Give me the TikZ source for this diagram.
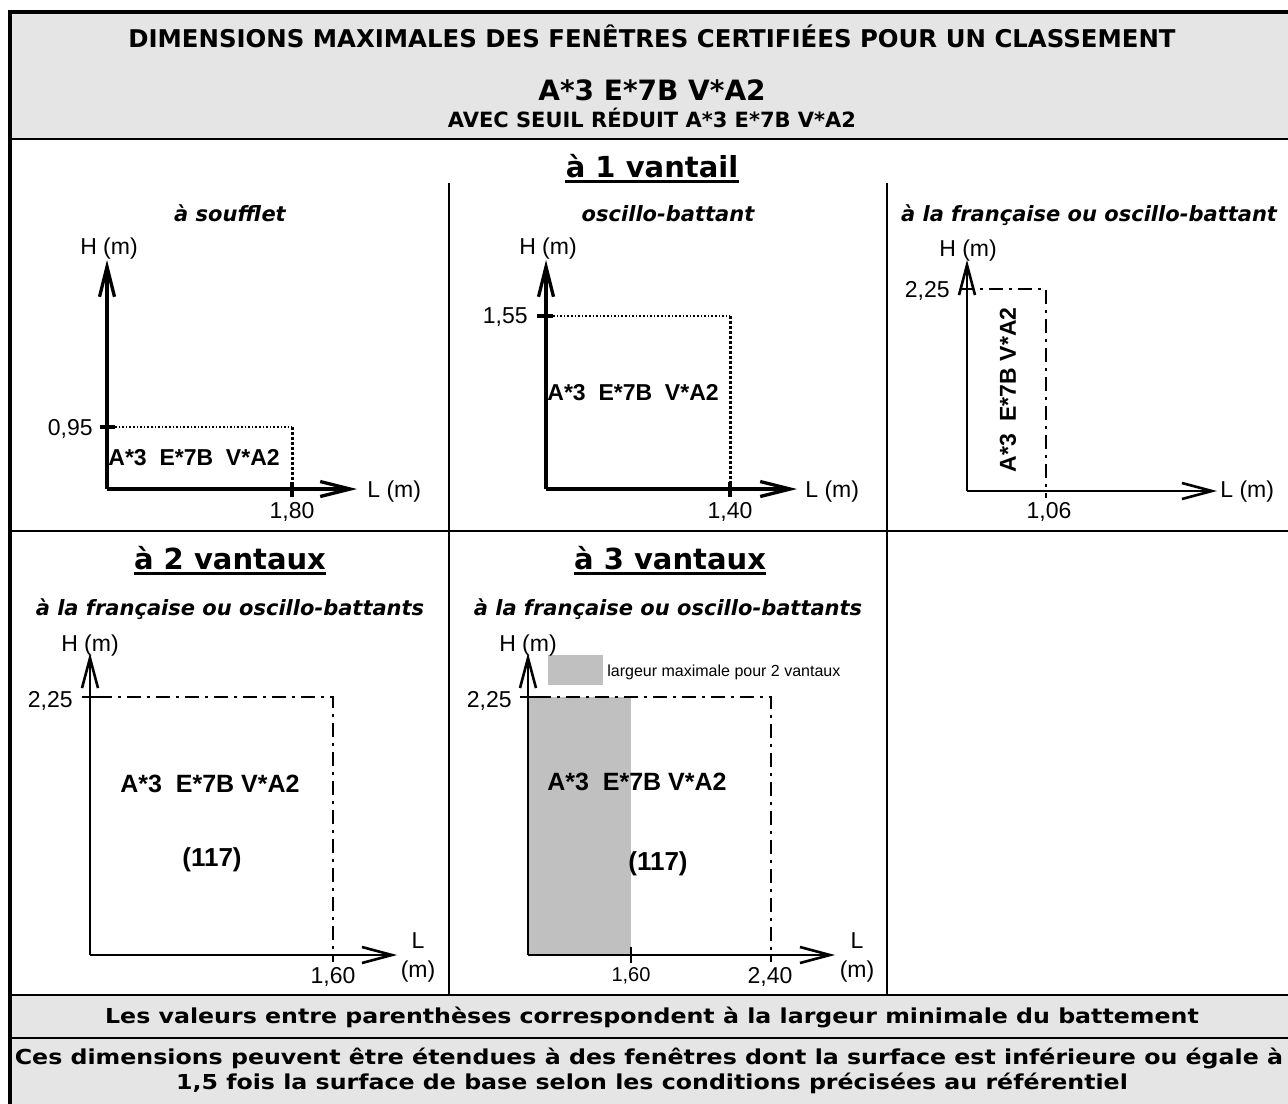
\documentclass[tikz,border=0pt]{standalone}
\usepackage{fontspec}
\setmainfont{DejaVu Sans}
\newfontfamily\arial{Liberation Sans}
\newfontfamily\etire[FakeStretch=1.15]{DejaVu Sans}
\usetikzlibrary{arrows.meta}
\definecolor{grisfond}{HTML}{E5E5E5}
\definecolor{grisvantaux}{HTML}{C0C0C0}
\newcommand{\taille}[1]{\fontsize{#1}{#1}\selectfont}
\tikzset{
  titre/.style={font=\bfseries\taille{12.2}},
  note/.style={font=\etire\bfseries\taille{10.3}},
  rubrique/.style={font=\bfseries\taille{14.5}},
  genre/.style={font=\bfseries\itshape\taille{10.5}},
  cote/.style={font=\arial\taille{11.5}},
  classe/.style={font=\arial\bfseries\taille{11.5}},
  cadre/.style={line width=1.25pt},
  axegras/.style={line width=1.65pt, -{Straight Barb[length=15pt,width=7.5pt]}},
  axe/.style={line width=1.3pt, -{Straight Barb[length=15pt,width=8pt]}},
  pointille/.style={line width=0.8pt, densely dotted},
  pointillegras/.style={line width=1.5pt, densely dotted},
  tiret/.style={line width=1pt, dash pattern=on 7pt off 3pt on 1.5pt off 3pt},
  souligne/.style={line width=1.5pt},
}

\begin{document}
\begin{tikzpicture}[x=0.5pt, y=-0.5pt, every node/.style={inner sep=0pt}]
  \clip (0,0) rectangle (1288,1103);

  % Fonds gris
  \fill[grisfond] (10,12) rectangle (1300,139);
  \fill[grisfond] (10,995) rectangle (1300,1110);
  \fill[grisvantaux] (528,697) rectangle (631,955);
  \fill[grisvantaux] (548,655) rectangle (603,685);

  % Cadre du tableau
  \draw[line width=1.65pt] (10,1110) -- (10,12) -- (1300,12);
  \foreach \y in {139,531,995,1038} {
    \draw[cadre] (10,\y) -- (1300,\y);
  }
  \foreach \x in {449,887} {
    \draw[line width=1pt] (\x,183) -- (\x,995);
  }

  % En-tete
  \node[titre, anchor=base] (titre) at (652,47) {DIMENSIONS MAXIMALES DES FENÊTRES CERTIFIÉES POUR UN CLASSEMENT};
  \node[font=\bfseries\taille{14}, anchor=base] (classement) at (652,100) {A*3 E*7B V*A2};
  \node[font=\bfseries\taille{10.5}, anchor=base] (seuil) at (652,127) {AVEC SEUIL RÉDUIT A*3 E*7B V*A2};

  % Rubriques
  \node[rubrique, anchor=base] (un) at (652,177) {à 1 vantail};
  \node[rubrique, anchor=base] (deux) at (230,569) {à 2 vantaux};
  \node[rubrique, anchor=base] (trois) at (670,569) {à 3 vantaux};
  \foreach \r in {un,deux,trois} {
    \draw[souligne] ([yshift=-2.2pt]\r.base west) -- ([yshift=-2.2pt]\r.base east);
  }

  % Types d'ouvrants
  \node[genre, anchor=base] (soufflet) at (230,221) {à soufflet};
  \node[genre, anchor=base] (oscillo) at (668,221) {oscillo-battant};
  \node[genre, anchor=base] (francaise) at (1089,221) {à la française ou oscillo-battant};
  \node[genre, anchor=base] (francaise2) at (230,615) {à la française ou oscillo-battants};
  \node[genre, anchor=base] (francaise3) at (668,615) {à la française ou oscillo-battants};

  % A soufflet
  \coordinate (o1) at (107,489);
  \draw[axegras] (o1) -- ++(0,-229);
  \draw[axegras] (o1) -- ++(250,0);
  \draw[line width=1.65pt] (100,427) -- (115,427);
  \draw[line width=1.65pt] (292,482) -- (292,497);
  \draw[pointille] (115,427) -- (292,427);
  \draw[pointillegras] (292,427) -- (292,482);
  \node[cote, anchor=base] (h1) at (109,254) {H (m)};
  \node[cote, anchor=base west] (l1) at (367,497) {L (m)};
  \node[cote, anchor=base east] (y1) at (93,435) {0,95};
  \node[cote, anchor=base] (x1) at (292,518) {1,80};
  \node[classe, anchor=base west] (c1) at (108,465) {A*3~~E*7B~~V*A2};

  % Oscillo-battant
  \coordinate (o2) at (546,489);
  \draw[axegras] (o2) -- ++(0,-229);
  \draw[axegras] (o2) -- ++(251,0);
  \draw[line width=1.65pt] (537,316) -- (553,316);
  \draw[line width=1.65pt] (730,482) -- (730,497);
  \draw[pointille] (553,316) -- (730,316);
  \draw[pointillegras] (730,316) -- (730,482);
  \node[cote, anchor=base] (h2) at (548,254) {H (m)};
  \node[cote, anchor=base west] (l2) at (805,497) {L (m)};
  \node[cote, anchor=base east] (y2) at (528,323) {1,55};
  \node[cote, anchor=base] (x2) at (730,518) {1,40};
  \node[classe, anchor=base west] (c2) at (547,400) {A*3~~E*7B~~V*A2};

  % A la francaise ou oscillo-battant
  \coordinate (o3) at (967,491);
  \draw[axe] (o3) -- ++(0,-231);
  \draw[axe] (o3) -- ++(250,0);
  \draw[tiret] (960,289) -| (1046,498);
  \node[cote, anchor=base] (h3) at (968,256) {H (m)};
  \node[cote, anchor=base west] (l3) at (1220,497) {L (m)};
  \node[cote, anchor=base east] (y3) at (950,297) {2,25};
  \node[cote, anchor=base] (x3) at (1049,518) {1,06};
  \node[classe, rotate=90] (c3) at (1008,390) {A*3~~E*7B V*A2};

  % A 2 vantaux
  \coordinate (o4) at (90,955);
  \draw[axe] (o4) -- ++(0,-302);
  \draw[axe] (o4) -- ++(307,0);
  \draw[line width=1.3pt] (82,697) -- (98,697);
  \draw[tiret] (98,697) -| (333,962);
  \node[cote, anchor=base] (h4) at (90,651) {H (m)};
  \node[cote, anchor=base] (l4) at (418,948) {L};
  \node[cote, anchor=base] (m4) at (418,977) {(m)};
  \node[cote, anchor=base east] (y4) at (73,707) {2,25};
  \node[cote, anchor=base] (x4) at (333,983) {1,60};
  \node[classe, font=\arial\bfseries\taille{12.5}, anchor=base] (c4) at (210,792) {A*3~~E*7B V*A2};
  \node[classe, font=\arial\bfseries\taille{13}, anchor=base] (b4) at (212,866) {(117)};

  % A 3 vantaux
  \coordinate (o5) at (528,955);
  \draw[axe] (o5) -- ++(0,-302);
  \draw[axe] (o5) -- ++(307,0);
  \draw[line width=1.3pt] (520,697) -- (537,697);
  \draw[line width=1.3pt] (631,947) -- (631,963);
  \draw[tiret] (537,697) -| (771,962);
  \node[font=\arial\taille{8}, anchor=base west] (legende) at (607,676) {largeur maximale pour 2 vantaux};
  \node[cote, anchor=base] (h5) at (528,651) {H (m)};
  \node[cote, anchor=base] (l5) at (857,948) {L};
  \node[cote, anchor=base] (m5) at (857,977) {(m)};
  \node[cote, anchor=base east] (y5) at (512,707) {2,25};
  \node[cote, font=\arial\taille{10}, anchor=base] (x5) at (631,981) {1,60};
  \node[cote, anchor=base] (x5b) at (770,983) {2,40};
  \node[classe, font=\arial\bfseries\taille{12.5}, anchor=base] (c5) at (637,790) {A*3~~E*7B V*A2};
  \node[classe, font=\arial\bfseries\taille{13}, anchor=base] (b5) at (658,870) {(117)};

  % Notes
  \node[note, anchor=base] (parentheses) at (652,1023) {Les valeurs entre parenthèses correspondent à la largeur minimale du battement};
  \node[note, anchor=base] (extension) at (649,1064) {Ces dimensions peuvent être étendues à des fenêtres dont la surface est inférieure ou égale à};
  \node[note, anchor=base] (extension2) at (652,1089) {1,5 fois la surface de base selon les conditions précisées au référentiel};
\end{tikzpicture}
\end{document}
